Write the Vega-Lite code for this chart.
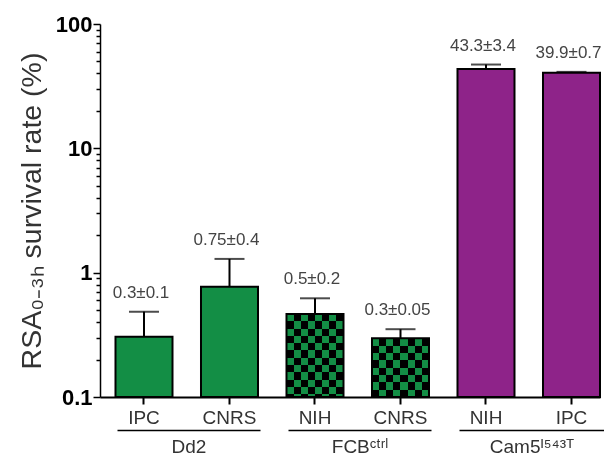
{
  "$schema": "https://vega.github.io/schema/vega-lite/v6.json",
  "width": 500,
  "height": 373,
  "autosize": {"type": "none"},
  "padding": {"left": 100, "top": 24, "right": 4, "bottom": 60},
  "background": "white",
  "config": {"view": {"stroke": null}, "font": "Liberation Sans"},
  "datasets": {
    "bars": [
      {"key": "Dd2|IPC", "group": "Dd2", "cond": "IPC", "value": 0.305, "hi": 0.486, "label": "0.3±0.1"},
      {"key": "Dd2|CNRS", "group": "Dd2", "cond": "CNRS", "value": 0.772, "hi": 1.29, "label": "0.75±0.4"},
      {"key": "FCB|NIH", "group": "FCBᶜᵗʳˡ", "cond": "NIH", "value": 0.465, "hi": 0.622, "label": "0.5±0.2"},
      {"key": "FCB|CNRS", "group": "FCBᶜᵗʳˡ", "cond": "CNRS", "value": 0.297, "hi": 0.351, "label": "0.3±0.05"},
      {"key": "Cam5|NIH", "group": "Cam5ᴵ⁵⁴³ᵀ", "cond": "NIH", "value": 43.5, "hi": 47.2, "label": "43.3±3.4"},
      {"key": "Cam5|IPC", "group": "Cam5ᴵ⁵⁴³ᵀ", "cond": "IPC", "value": 40.5, "hi": 41.2, "label": "39.9±0.7"}
    ]
  },
  "data": {"name": "bars"},
  "layer": [
    {
      "encoding": {
        "x": {
          "field": "key", "type": "nominal", "sort": null,
          "scale": {"paddingInner": 0.3333, "paddingOuter": 0.0906, "align": 1},
          "axis": {
            "title": null, "labelAngle": 0, "labelExpr": "split(datum.value, '|')[1]",
            "labelFont": "Liberation Sans", "labelFontSize": 19, "labelColor": "#333333", "labelPadding": 4,
            "tickSize": 7, "tickWidth": 2, "tickColor": "black",
            "domainColor": "black", "domainWidth": 2
          }
        }
      },
      "layer": [
        {
          "mark": {"type": "bar", "strokeWidth": 0},
          "encoding": {
            "y": {
              "field": "value", "type": "quantitative",
              "scale": {"type": "log", "domain": [0.1, 100], "nice": false},
              "axis": {
                "title": "RSA₀₋₃ₕ survival rate (%)",
                "values": [0.1, 0.2, 0.3, 0.4, 0.5, 0.6, 0.7, 0.8, 0.9, 1, 2, 3, 4, 5, 6, 7, 8, 9, 10, 20, 30, 40, 50, 60, 70, 80, 90, 100],
                "format": "~g",
                "labelExpr": "(datum.value == 0.1 || datum.value == 1 || datum.value == 10 || datum.value == 100) ? datum.label : ''",
                "labelOverlap": false, "labelFlush": false, "labelBound": false,
                "labelFont": "Liberation Sans", "labelFontWeight": "bold", "labelFontSize": 22, "labelColor": "black", "labelPadding": 1,
                "tickSize": {"condition": {"test": "datum.value == 0.1 || datum.value == 1 || datum.value == 10 || datum.value == 100", "value": 7}, "value": 4},
                "tickWidth": 1.5, "tickColor": "black",
                "domainColor": "black", "domainWidth": 1.5,
                "grid": false,
                "titleFont": "Liberation Sans", "titleFontSize": 28.5, "titleFontWeight": "normal", "titleColor": "#333333", "titlePadding": 9
              }
            },
            "y2": {"datum": 0.1},
            "color": {
              "field": "group", "type": "nominal",
              "scale": {"domain": ["Dd2", "FCBᶜᵗʳˡ", "Cam5ᴵ⁵⁴³ᵀ"], "range": ["#138E45", "#138E45", "#8E2389"]},
              "legend": null
            }
          }
        },
        {
          "transform": [{"filter": "datum.group == 'FCBᶜᵗʳˡ'"}],
          "mark": {
            "type": "bar", "strokeWidth": 0,
            "color": {
              "gradient": "linear", "x1": 0, "y1": 0, "x2": 1, "y2": 0,
              "stops": [
                {"offset": 0, "color": "#138E45"}, {"offset": 0.125, "color": "#138E45"},
                {"offset": 0.125, "color": "#000000"}, {"offset": 0.25, "color": "#000000"},
                {"offset": 0.25, "color": "#138E45"}, {"offset": 0.375, "color": "#138E45"},
                {"offset": 0.375, "color": "#000000"}, {"offset": 0.5, "color": "#000000"},
                {"offset": 0.5, "color": "#138E45"}, {"offset": 0.625, "color": "#138E45"},
                {"offset": 0.625, "color": "#000000"}, {"offset": 0.75, "color": "#000000"},
                {"offset": 0.75, "color": "#138E45"}, {"offset": 0.875, "color": "#138E45"},
                {"offset": 0.875, "color": "#000000"}, {"offset": 1, "color": "#000000"}
              ]
            }
          },
          "encoding": {"y": {"field": "value", "type": "quantitative"}, "y2": {"datum": 0.1}}
        },
        {
          "transform": [{"filter": "datum.key == 'FCB|NIH'"}],
          "mark": {
            "type": "bar", "strokeWidth": 0, "blend": "difference",
            "color": {
              "gradient": "linear", "x1": 0, "y1": 0, "x2": 0, "y2": 1,
              "stops": [
                {"offset": 0, "color": "#000000"}, {"offset": 0.0877, "color": "#000000"},
                {"offset": 0.0877, "color": "#138E45"}, {"offset": 0.1754, "color": "#138E45"},
                {"offset": 0.1754, "color": "#000000"}, {"offset": 0.2632, "color": "#000000"},
                {"offset": 0.2632, "color": "#138E45"}, {"offset": 0.3509, "color": "#138E45"},
                {"offset": 0.3509, "color": "#000000"}, {"offset": 0.4386, "color": "#000000"},
                {"offset": 0.4386, "color": "#138E45"}, {"offset": 0.5263, "color": "#138E45"},
                {"offset": 0.5263, "color": "#000000"}, {"offset": 0.614, "color": "#000000"},
                {"offset": 0.614, "color": "#138E45"}, {"offset": 0.7018, "color": "#138E45"},
                {"offset": 0.7018, "color": "#000000"}, {"offset": 0.7895, "color": "#000000"},
                {"offset": 0.7895, "color": "#138E45"}, {"offset": 0.8772, "color": "#138E45"},
                {"offset": 0.8772, "color": "#000000"}, {"offset": 0.9649, "color": "#000000"},
                {"offset": 0.9649, "color": "#138E45"}, {"offset": 1, "color": "#138E45"}
              ]
            }
          },
          "encoding": {"y": {"field": "value", "type": "quantitative"}, "y2": {"datum": 0.1}}
        },
        {
          "transform": [{"filter": "datum.key == 'FCB|CNRS'"}],
          "mark": {
            "type": "bar", "strokeWidth": 0, "blend": "difference",
            "color": {
              "gradient": "linear", "x1": 0, "y1": 0, "x2": 0, "y2": 1,
              "stops": [
                {"offset": 0, "color": "#000000"}, {"offset": 0.125, "color": "#000000"},
                {"offset": 0.125, "color": "#138E45"}, {"offset": 0.25, "color": "#138E45"},
                {"offset": 0.25, "color": "#000000"}, {"offset": 0.375, "color": "#000000"},
                {"offset": 0.375, "color": "#138E45"}, {"offset": 0.5, "color": "#138E45"},
                {"offset": 0.5, "color": "#000000"}, {"offset": 0.625, "color": "#000000"},
                {"offset": 0.625, "color": "#138E45"}, {"offset": 0.75, "color": "#138E45"},
                {"offset": 0.75, "color": "#000000"}, {"offset": 0.875, "color": "#000000"},
                {"offset": 0.875, "color": "#138E45"}, {"offset": 1, "color": "#138E45"}
              ]
            }
          },
          "encoding": {"y": {"field": "value", "type": "quantitative"}, "y2": {"datum": 0.1}}
        },
        {
          "mark": {"type": "bar", "fillOpacity": 0, "stroke": "black", "strokeWidth": 2},
          "encoding": {"y": {"field": "value", "type": "quantitative"}, "y2": {"datum": 0.1}}
        },
        {
          "mark": {"type": "rule", "color": "black", "strokeWidth": 2},
          "encoding": {"y": {"field": "value", "type": "quantitative"}, "y2": {"field": "hi"}}
        },
        {
          "mark": {"type": "tick", "color": "black", "thickness": 2, "size": 30},
          "encoding": {"y": {"field": "hi", "type": "quantitative"}}
        },
        {
          "mark": {"type": "text", "baseline": "middle", "dy": -19, "dx": -3, "fontSize": 17, "color": "#444444", "font": "Liberation Sans"},
          "encoding": {"y": {"field": "hi", "type": "quantitative"}, "text": {"field": "label"}}
        }
      ]
    },
    {
      "transform": [{"filter": "datum.key == 'Dd2|IPC'"}],
      "mark": {"type": "point", "opacity": 0},
      "encoding": {
        "x": {
          "field": "group", "type": "nominal", "scale": {"range": [17, 160]},
          "axis": {"orient": "bottom", "offset": 33, "title": null, "ticks": false, "domainColor": "black", "domainWidth": 1.5,
                   "labelAngle": 0, "labelFont": "Liberation Sans", "labelFontSize": 19, "labelColor": "#333333", "labelPadding": 7}
        }
      }
    },
    {
      "transform": [{"filter": "datum.key == 'FCB|NIH'"}],
      "mark": {"type": "point", "opacity": 0},
      "encoding": {
        "x": {
          "field": "group", "type": "nominal", "scale": {"range": [188, 331]},
          "axis": {"orient": "bottom", "offset": 33, "title": null, "ticks": false, "domainColor": "black", "domainWidth": 1.5,
                   "labelAngle": 0, "labelFont": "Liberation Sans", "labelFontSize": 19, "labelColor": "#333333", "labelPadding": 7}
        }
      }
    },
    {
      "transform": [{"filter": "datum.key == 'Cam5|NIH'"}],
      "mark": {"type": "point", "opacity": 0},
      "encoding": {
        "x": {
          "field": "group", "type": "nominal", "scale": {"range": [359, 504]},
          "axis": {"orient": "bottom", "offset": 33, "title": null, "ticks": false, "domainColor": "black", "domainWidth": 1.5,
                   "labelAngle": 0, "labelFont": "Liberation Sans", "labelFontSize": 19, "labelColor": "#333333", "labelPadding": 7}
        }
      }
    }
  ],
  "resolve": {"scale": {"x": "independent"}, "axis": {"x": "independent"}}
}
